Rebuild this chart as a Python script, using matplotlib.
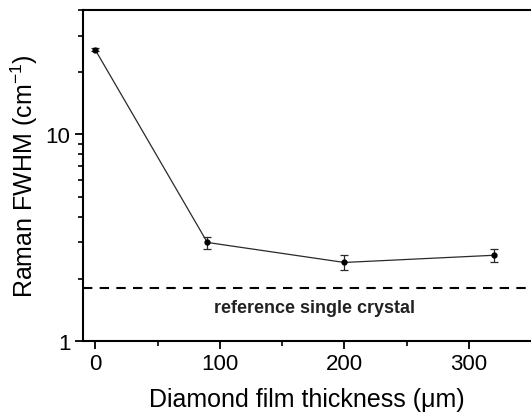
import matplotlib
matplotlib.use("Agg")
import matplotlib.pyplot as plt
from matplotlib.ticker import FixedLocator, NullFormatter, LogLocator

plt.rcParams['font.family'] = ['Liberation Sans', 'DejaVu Sans']

# data
thickness = [0, 90, 200, 320]
fwhm = [25.7, 3.0, 2.4, 2.6]
fwhm_err = [0.4, 0.2, 0.2, 0.18]
ref_crystal = 1.8
ref_label = "reference single crystal"

fig = plt.figure(figsize=(5.31, 4.14), dpi=100)
ax = fig.add_axes([0.156, 0.174, 0.844, 0.799])

ax.errorbar(thickness, fwhm, yerr=fwhm_err, color='#2a2a2a', lw=0.9,
            marker='o', ms=3.5, mfc='black', mec='black',
            ecolor='#2a2a2a', elinewidth=0.9, capsize=3, capthick=0.9)
ax.axhline(ref_crystal, color='black', lw=1.5, ls=(0, (4.5, 3.5)))
ax.text(176, 1.46, ref_label, ha='center', va='center',
        fontsize=13, fontweight='bold', color='#222222')

ax.set_yscale('log')
ax.set_ylim(1, 40)
ax.set_xlim(-10, 350)
ax.yaxis.set_major_locator(FixedLocator([1, 10]))
ax.yaxis.set_major_formatter(matplotlib.ticker.FixedFormatter(['1', '10']))
ax.yaxis.set_minor_locator(LogLocator(base=10, subs=range(2, 10)))
ax.yaxis.set_minor_formatter(NullFormatter())
ax.set_xticks([0, 100, 200, 300])
ax.xaxis.set_minor_locator(FixedLocator([50, 150, 250]))

ax.spines['right'].set_visible(False)
for s in ['left', 'top', 'bottom']:
    ax.spines[s].set_linewidth(1.5)
ax.tick_params(which='major', direction='out', length=6, width=1.3,
               labelsize=16, pad=3)
ax.tick_params(which='minor', direction='out', length=3.5, width=1.2)

ax.set_xlabel('Diamond film thickness (μm)', fontsize=18, labelpad=9)
ax.set_ylabel('Raman FWHM (cm$^{\\mathregular{-1}}$)', fontsize=18, labelpad=4)

plt.savefig("out.png", dpi=100)
